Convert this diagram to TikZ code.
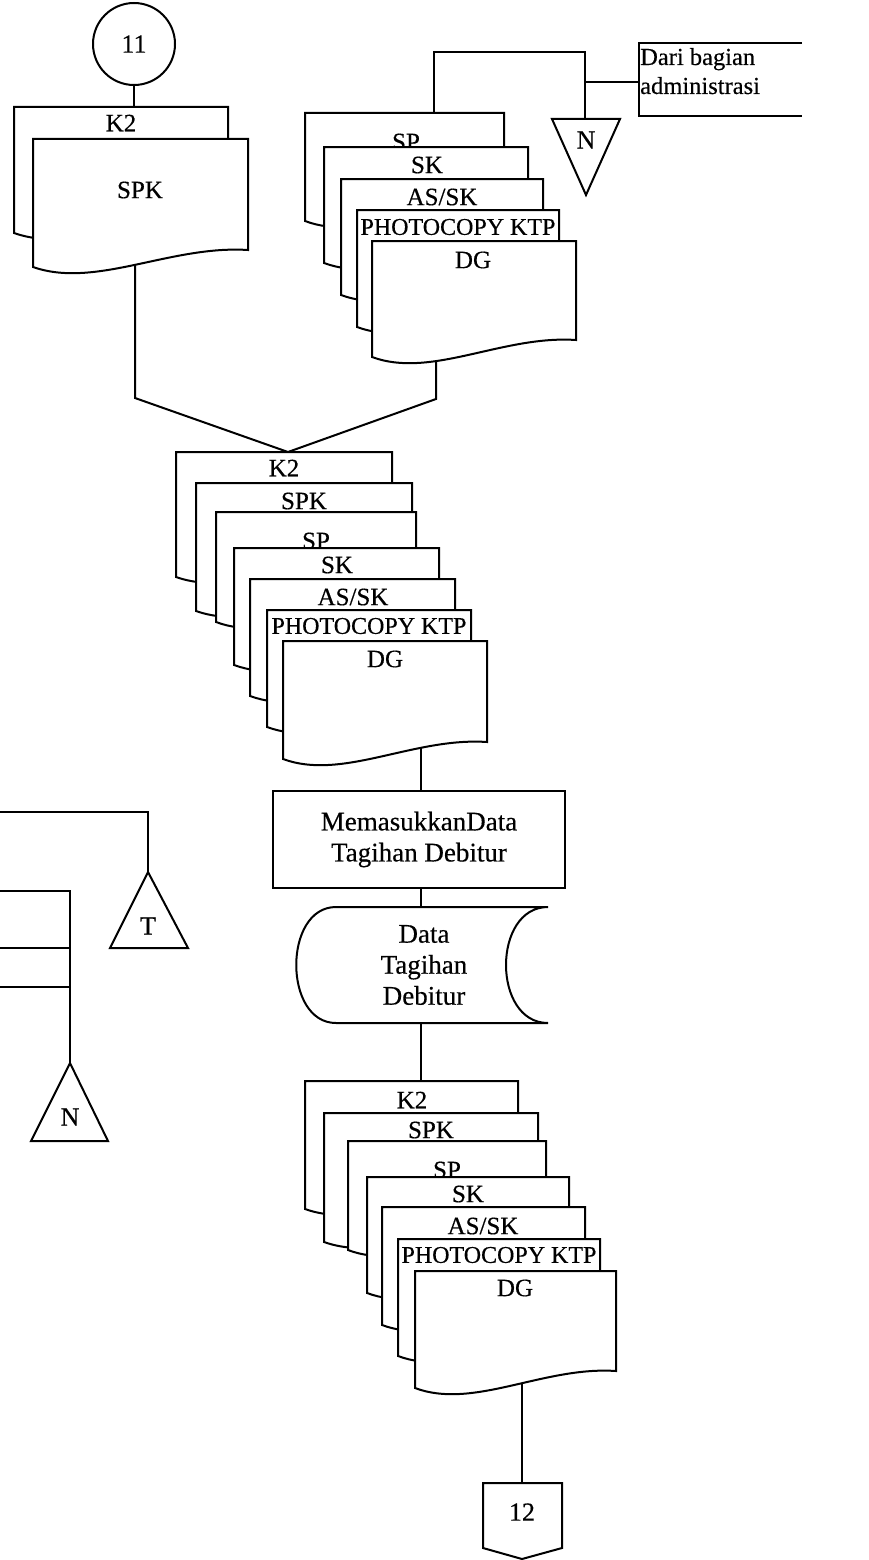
\documentclass[tikz,border=0pt]{standalone}
\usepackage{fontspec}
\setmainfont{Liberation Serif}[FakeBold=0.4]
\newcommand\phfont{\fontsize{24}{28}\selectfont}
\tikzset{
  ln/.style={line width=2pt},
  docbox/.style={draw, fill=white, line width=2pt, line join=miter},
  doclabel/.style={inner sep=0pt, font=\fontsize{25}{30}\selectfont},
  biglabel/.style={inner sep=0pt, align=center, font=\fontsize{27}{31}\selectfont},
  trilabel/.style={inner sep=0pt, font=\fontsize{26}{30}\selectfont},
  shapebox/.style={draw, fill=white, line width=2pt, line join=miter},
}
\newcommand\drawdoc[8]{%
  \path[docbox] (#2,#4) -- (#3,#4) -- (#3,{#5-17})
    .. controls ({#3-0.36*(#3-#2)},{#5-22}) and ({#2+0.29*(#3-#2)},{#5+22}) .. (#2,#5) -- cycle;
  \node[doclabel] (#1) at (#6,#7) {#8};
}
\begin{document}
\begin{tikzpicture}[x=1pt,y=-1pt]
\useasboundingbox (0,0) rectangle (868,1560);

% ---------- coordinates ----------
\coordinate (tlTop) at (134,107);
\coordinate (tlBot) at (135,262);
\coordinate (tlBend) at (135,398);
\coordinate (merge) at (288,452);
\coordinate (trBend) at (436,399);
\coordinate (trBot) at (436,350);
\coordinate (trTop) at (434,113);
\coordinate (trUp) at (434,52);
\coordinate (jTop) at (585,52);
\coordinate (jMid) at (585,82);
\coordinate (nTop) at (585,119);
\coordinate (adminL) at (639,82);
\coordinate (mBot) at (421,748);
\coordinate (storeTop) at (421,907);
\coordinate (storeBot) at (421,1023);
\coordinate (bTop) at (421,1081);
\coordinate (bBot) at (522,1378);
\coordinate (offTop) at (522,1483);
\coordinate (L1) at (0,812);
\coordinate (L1c) at (148,812);
\coordinate (tApex) at (148,872);
\coordinate (L2) at (0,891);
\coordinate (L2c) at (70,891);
\coordinate (L3) at (0,948);
\coordinate (L3c) at (70,948);
\coordinate (L4) at (0,987);
\coordinate (L4c) at (70,987);
\coordinate (nApex) at (70,1063);

% ---------- nodes ----------
\node[draw, circle, minimum size=82pt, inner sep=0pt, line width=2pt,
      font=\fontsize{26}{30}\selectfont] (c11) at (134,44) {11};
\node[draw, line width=2pt, minimum width=292pt, minimum height=97pt, inner sep=0pt,
      align=center, font=\fontsize{27}{31}\selectfont] (proc) at (419,839.5)
      {MemasukkanData\\Tagihan Debitur};

% stored data shape
\path[shapebox] (336,907) -- (548,907) .. controls (492,907) and (492,1023) .. (548,1023)
  -- (336,1023) .. controls (283,1023) and (283,907) .. (336,907) -- cycle;
\node[biglabel] (store) at (424,965) {Data\\Tagihan\\Debitur};

% admin box (open at right)
\draw[ln] (802,43) -- (639,43) -- (639,116) -- (802,116);
\node[inner sep=0pt, anchor=base west, font=\fontsize{24.5}{29}\selectfont] (dari1) at (640,65) {Dari bagian};
\node[inner sep=0pt, anchor=base west, font=\fontsize{24.5}{29}\selectfont] (dari2) at (640,94) {administrasi};

% ---------- connectors ----------
\draw[ln] (c11) -- (tlTop);
\draw[ln] (tlBot) -- (tlBend) -- (merge) -- (trBend) -- (trBot);
\draw[ln] (trTop) -- (trUp) -- (jTop) -- (nTop);
\draw[ln] (jMid) -- (adminL);
\draw[ln] (mBot) -- (mBot |- proc.north);
\draw[ln] (proc.south -| mBot) -- (storeTop);
\draw[ln] (storeBot) -- (bTop);
\draw[ln] (bBot) -- (offTop);
\draw[ln] (L1) -- (L1c) -- (tApex);
\draw[ln] (L2) -- (L2c) -- (nApex);
\draw[ln] (L3) -- (L3c);
\draw[ln] (L4) -- (L4c);

% ---------- triangles and off-page connector ----------
\path[shapebox] (148,872) -- (188,948) -- (110,948) -- cycle;
\node[trilabel] (tT) at (148,926) {T};
\path[shapebox] (552,119) -- (620,119) -- (586,195) -- cycle;
\node[trilabel] (tN1) at (586,140) {N};
\path[shapebox] (70,1063) -- (108,1141) -- (31,1141) -- cycle;
\node[trilabel] (tN2) at (70,1117) {N};
\path[shapebox] (483,1483) -- (562,1483) -- (562,1548) -- (522,1559) -- (483,1548) -- cycle;
\node[trilabel] (c12) at (522,1512) {12};

% ---------- document stacks ----------
% top-left
\drawdoc{tlK2}{14}{228}{107}{233}{121}{123}{K2}
\drawdoc{tlSPK}{33}{248}{139}{267}{140}{190}{SPK}
% top-right
\drawdoc{trSP}{305}{504}{113}{221}{406}{142}{SP}
\drawdoc{trSK}{324}{528}{147}{263}{427}{165}{SK}
\drawdoc{trAS}{341}{543}{179}{295}{442}{197}{AS/SK}
\drawdoc{trPH}{357}{559}{210}{327}{458}{227}{\phfont PHOTOCOPY KTP}
\drawdoc{trDG}{372}{576}{241}{357}{473}{260}{DG}
% middle
\drawdoc{mK2}{176}{392}{452}{577}{284}{468}{K2}
\drawdoc{mSPK}{196}{412}{483}{611}{304}{501}{SPK}
\drawdoc{mSP}{216}{416}{512}{622}{316}{541}{SP}
\drawdoc{mSK}{234}{439}{548}{665}{337}{565}{SK}
\drawdoc{mAS}{250}{455}{579}{696}{353}{597}{AS/SK}
\drawdoc{mPH}{267}{471}{610}{727}{369}{626}{\phfont PHOTOCOPY KTP}
\drawdoc{mDG}{283}{487}{641}{759}{385}{659}{DG}
% bottom
\drawdoc{bK2}{305}{518}{1081}{1209}{412}{1100}{K2}
\drawdoc{bSPK}{324}{538}{1113}{1242}{431}{1130}{SPK}
\drawdoc{bSP}{348}{546}{1141}{1250}{447}{1170}{SP}
\drawdoc{bSK}{367}{569}{1177}{1293}{468}{1194}{SK}
\drawdoc{bAS}{382}{585}{1207}{1325}{483}{1226}{AS/SK}
\drawdoc{bPH}{398}{600}{1239}{1356}{499}{1255}{\phfont PHOTOCOPY KTP}
\drawdoc{bDG}{415}{616}{1271}{1388}{515}{1288}{DG}
\end{tikzpicture}
\end{document}
